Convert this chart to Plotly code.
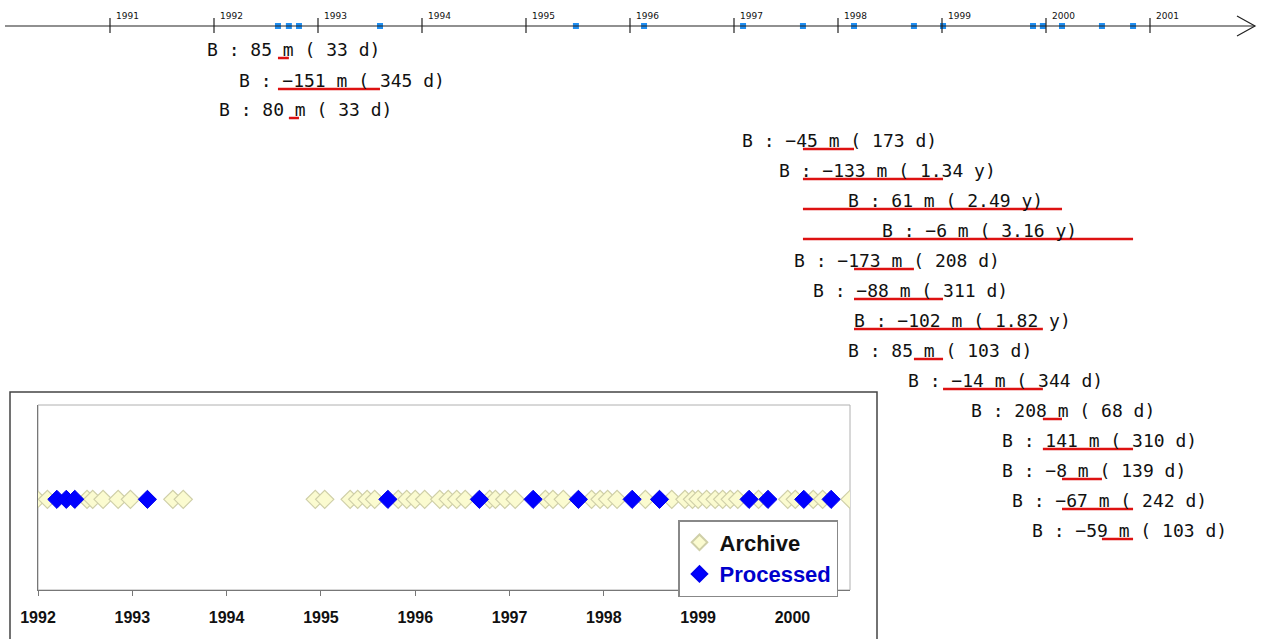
import plotly.graph_objects as go

W, H = 1263, 639

# ---------------- top timeline data ----------------
tick_years = [1991, 1992, 1993, 1994, 1995, 1996, 1997, 1998, 1999, 2000, 2001]
acq_dates = [1992.615, 1992.72, 1992.817, 1993.596, 1995.48, 1996.135, 1997.087,
             1997.663, 1998.154, 1998.73, 1999.01, 1999.875, 1999.97, 2000.154,
             2000.538, 2000.837]

pair_labels = ["B : 85 m ( 33 d)", "B : \u2212151 m ( 345 d)", "B : 80 m ( 33 d)",
               "B : \u221245 m ( 173 d)", "B : \u2212133 m ( 1.34 y)", "B : 61 m ( 2.49 y)",
               "B : \u22126 m ( 3.16 y)", "B : \u2212173 m ( 208 d)", "B : \u221288 m ( 311 d)",
               "B : \u2212102 m ( 1.82 y)", "B : 85 m ( 103 d)", "B : \u221214 m ( 344 d)",
               "B : 208 m ( 68 d)", "B : 141 m ( 310 d)", "B : \u22128 m ( 139 d)",
               "B : \u221267 m ( 242 d)", "B : \u221259 m ( 103 d)"]
pair_start = [0, 0, 1, 7, 7, 7, 7, 8, 8, 8, 9, 10, 12, 12, 13, 13, 14]
pair_end = [1, 3, 2, 8, 10, 13, 15, 9, 10, 12, 10, 12, 13, 15, 14, 15, 15]
label_x = [1991.913, 1992.221, 1992.029, 1997.058, 1997.413, 1998.077, 1998.404,
           1997.558, 1997.740, 1998.135, 1998.077, 1998.654, 1999.260, 1999.558,
           1999.558, 1999.654, 1999.846]
label_row = [49, 80, 109, 140, 170, 200, 230, 260, 290, 320, 350, 380, 410, 440,
             470, 500, 530]

# ---------------- inset chart data ----------------
inset_years = [1992, 1993, 1994, 1995, 1996, 1997, 1998, 1999, 2000]
archive_dates = [1991.99, 1992.10, 1992.52, 1992.58, 1992.69, 1992.85, 1992.98,
                 1993.43, 1993.54, 1994.94, 1995.04, 1995.31, 1995.39, 1995.49,
                 1995.57, 1995.82, 1995.91, 1996.00, 1996.10, 1996.26, 1996.35,
                 1996.44, 1996.53, 1996.79, 1996.85, 1996.95, 1997.06, 1997.38,
                 1997.46, 1997.57, 1997.87, 1997.96, 1998.04, 1998.14, 1998.44,
                 1998.72, 1998.86, 1998.94, 1999.00, 1999.09, 1999.18, 1999.26,
                 1999.34, 1999.42, 1999.64, 1999.95, 2000.03, 2000.22, 2000.32,
                 2000.61]
processed_dates = [1992.20, 1992.30, 1992.39, 1993.16, 1995.71, 1996.68, 1997.25,
                   1997.73, 1998.30, 1998.59, 1999.54, 1999.74, 2000.12, 2000.41]
row_level = 0.49

fig = go.Figure()

# top timeline acquisitions
fig.add_trace(go.Scatter(x=acq_dates, y=[26] * len(acq_dates), mode="markers",
                         marker=dict(symbol="square", size=6, color="#1f8ef1"),
                         xaxis="x", yaxis="y", showlegend=False, hoverinfo="x"))

# inset traces
fig.add_trace(go.Scatter(x=archive_dates, y=[row_level] * len(archive_dates),
                         mode="markers", name="Archive",
                         marker=dict(symbol="diamond", size=14, color="#fbfbd0",
                                     line=dict(color="#cfcfa8", width=1.2)),
                         xaxis="x2", yaxis="y2"))
fig.add_trace(go.Scatter(x=processed_dates, y=[row_level] * len(processed_dates),
                         mode="markers", name="<span style='color:#0000cc'>Processed</span>",
                         marker=dict(symbol="diamond", size=14, color="#0000ff",
                                     line=dict(color="#0000ee", width=1)),
                         xaxis="x2", yaxis="y2"))

shapes = []
annotations = []

# inset outer box
shapes.append(dict(type="rect", xref="paper", yref="paper", x0=10 / W, x1=877 / W,
                   y0=-0.02, y1=1 - 392 / H, line=dict(color="#444", width=1.5),
                   fillcolor="white", layer="below"))
# inset plot frame
shapes.append(dict(type="rect", xref="x2 domain", yref="y2 domain", x0=0, x1=1, y0=0, y1=1,
                   line=dict(color="#b0b0b0", width=1), layer="below"))

# timeline axis line + arrow
shapes.append(dict(type="line", xref="paper", yref="y", x0=5 / W, x1=1255 / W, y0=26, y1=26,
                   line=dict(color="#222", width=1.2)))
shapes.append(dict(type="path", xref="paper", yref="y",
                   path=f"M {1237 / W} 16 L {1255 / W} 26 L {1237 / W} 36",
                   line=dict(color="#222", width=1.2)))
for yr in tick_years:
    shapes.append(dict(type="line", xref="x", yref="y", x0=yr, x1=yr, y0=18, y1=33,
                       line=dict(color="#222", width=1.2)))
    annotations.append(dict(x=yr, y=16, xref="x", yref="y", text=str(yr), showarrow=False,
                            xanchor="left", yanchor="middle", xshift=4,
                            font=dict(family="DejaVu Sans", size=9, color="#111")))

# pair labels and red spans
for lab, s, e, lx, row in zip(pair_labels, pair_start, pair_end, label_x, label_row):
    annotations.append(dict(x=lx, y=row, xref="x", yref="y", text=lab, showarrow=False,
                            xanchor="left", yanchor="middle",
                            font=dict(family="DejaVu Sans Mono", size=18, color="#111")))
    shapes.append(dict(type="line", xref="x", yref="y", x0=acq_dates[s], x1=acq_dates[e],
                       y0=row + 9, y1=row + 9, line=dict(color="#dd1111", width=2.5)))

fig.update_layout(
    template="none",
    width=W, height=H, margin=dict(l=0, r=0, t=0, b=0, pad=0, autoexpand=False),
    paper_bgcolor="white", plot_bgcolor="rgba(0,0,0,0)",
    xaxis=dict(domain=[0, 1], range=[1991 - 110 / 104, 1991 + (W - 110) / 104],
               visible=False, fixedrange=True, automargin=False),
    yaxis=dict(domain=[0, 1], range=[H, 0], visible=False, fixedrange=True,
               automargin=False),
    xaxis2=dict(domain=[38 / W, 850 / W], range=[1992, 2000.61], anchor="y2",
                tickvals=inset_years, ticktext=[str(y) for y in inset_years],
                ticks="outside", ticklen=5, tickcolor="#777", showline=True,
                linecolor="#777", linewidth=1, showgrid=False, zeroline=False,
                ticklabelstandoff=8, automargin=False, fixedrange=True,
                tickfont=dict(family="Liberation Sans", size=16, color="#111", weight="bold")),
    yaxis2=dict(domain=[1 - 590 / H, 1 - 405 / H], range=[0, 1], anchor="x2",
                showline=True, linecolor="#777", linewidth=1, showticklabels=False,
                ticks="", showgrid=False, zeroline=False, automargin=False,
                fixedrange=True),
    legend=dict(x=678 / W, y=1 - 520 / H, xanchor="left", yanchor="top",
                bordercolor="#888", borderwidth=1.5, bgcolor="white",
                font=dict(family="Liberation Sans", size=22, color="#111", weight="bold"),
                itemsizing="constant", tracegroupgap=0, itemwidth=30),
    shapes=shapes, annotations=annotations, showlegend=True,
)

fig.write_html("out.html", config={"displayModeBar": False},
               post_script="document.body.style.margin='0';")
